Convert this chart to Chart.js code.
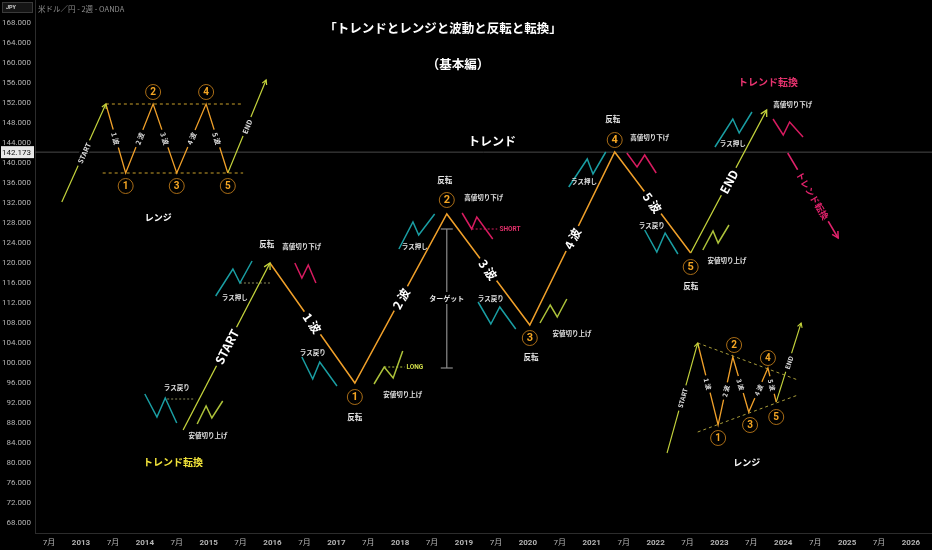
<!DOCTYPE html>
<html><head><meta charset="utf-8">
<script src="https://cdn.jsdelivr.net/npm/chart.js@4.4.1/dist/chart.umd.min.js"></script>
<style>html,body{margin:0;padding:0;background:#000;overflow:hidden}#wrap{width:932px;height:550px}</style>
</head><body><div id="wrap"><canvas id="c" width="932" height="550"></canvas></div>
<script>
// ---------- axes ----------
const xTickLabels = ['7月','2013','7月','2014','7月','2015','7月','2016','7月','2017','7月','2018','7月','2019','7月','2020','7月','2021','7月','2022','7月','2023','7月','2024','7月','2025','7月','2026'];
const xTickValues = [2012.5,2013,2013.5,2014,2014.5,2015,2015.5,2016,2016.5,2017,2017.5,2018,2018.5,2019,2019.5,2020,2020.5,2021,2021.5,2022,2022.5,2023,2023.5,2024,2024.5,2025,2025.5,2026];
const yTickValues = [68,72,76,80,84,88,92,96,100,104,108,112,116,120,124,128,132,136,140,144,148,152,156,160,164,168];
const xMin = 2012.28, xMax = 2026.33, yMin = 66.0, yMax = 172.6;
const currentPrice = 142.173;
const priceLine = [[xMin,142.173],[xMax,142.173]];

// ---------- top-left: range diagram ----------
const rngStartArrow = [[2012.70,132.2],[2013.39,151.8]];
const rngWaves = [[2013.39,151.8],[2013.70,138.0],[2014.13,151.8],[2014.50,138.0],[2014.96,151.8],[2015.30,138.0]];
const rngEndArrow = [[2015.30,138.0],[2015.90,156.6]];
const rngUpper = [[2013.39,151.8],[2015.54,151.8]];
const rngLower = [[2013.34,138.0],[2015.54,138.0]];
const rngCircles = [[2013.70,135.4],[2014.13,154.2],[2014.50,135.4],[2014.96,154.2],[2015.30,135.4]];
const rngTitlePos = [2014.21,129.0];

// ---------- main trend ----------
const trendStartArrow = [[2014.60,86.6],[2015.96,120.0]];
const trendWaves = [[2015.96,120.0],[2017.29,96.0],[2018.73,129.8],[2020.03,107.6],[2021.36,142.2],[2022.55,122.0]];
const trendEndArrow = [[2022.55,122.0],[2023.74,150.6]];
const trendCircles = [[2017.29,93.2],[2018.73,132.6],[2020.03,105.0],[2021.36,144.6],[2022.55,119.2]];
const reversalPos = [[2015.91,123.8],[2017.29,89.2],[2018.70,136.6],[2020.05,101.2],[2021.33,148.8],[2022.55,115.4]];

const tealZig1 = [[2014.00,93.8],[2014.19,89.2],[2014.32,93.0],[2014.50,88.0]];
const tealZig2 = [[2015.11,113.4],[2015.38,118.8],[2015.49,116.0],[2015.68,120.4]];
const tealZig3 = [[2016.46,101.2],[2016.63,96.8],[2016.74,100.2],[2017.01,95.4]];
const tealZig4 = [[2017.98,122.8],[2018.20,128.2],[2018.29,125.6],[2018.54,129.8]];
const tealZig5 = [[2019.22,112.2],[2019.42,107.8],[2019.56,111.2],[2019.81,106.8]];
const tealZig6 = [[2020.64,135.2],[2020.93,140.8],[2021.02,137.8],[2021.22,142.2]];
const tealZig7 = [[2021.83,126.6],[2022.02,122.2],[2022.15,126.0],[2022.35,121.8]];
const tealZig8 = [[2022.93,143.2],[2023.21,148.8],[2023.31,146.0],[2023.51,150.2]];

const pinkZig1 = [[2016.35,120.0],[2016.46,117.0],[2016.56,119.6],[2016.68,116.0]];
const pinkZig2 = [[2018.97,130.0],[2019.12,126.8],[2019.20,129.2],[2019.45,124.8]];
const pinkZig3 = [[2021.55,142.0],[2021.71,139.2],[2021.83,141.6],[2022.01,138.0]];
const pinkZig4 = [[2023.84,148.8],[2024.00,145.6],[2024.10,148.2],[2024.31,145.2]];

const limeZig1 = [[2014.82,87.8],[2014.96,91.4],[2015.05,89.0],[2015.22,92.4]];
const limeZig2 = [[2017.59,95.8],[2017.75,99.2],[2017.89,97.0],[2018.04,102.4]];
const limeZig3 = [[2020.19,108.0],[2020.35,111.6],[2020.46,109.2],[2020.61,112.8]];
const limeZig4 = [[2022.74,122.6],[2022.90,126.4],[2022.98,124.0],[2023.15,127.6]];

const refDash1 = [[2014.35,92.8],[2014.79,92.8]];
const refDash2 = [[2015.49,116.0],[2015.96,116.0]];
const longDash = [[2017.75,99.2],[2018.07,99.2]];
const shortDash = [[2019.12,126.8],[2019.52,126.8]];
const targetLine = [[2018.73,126.8],[2018.73,99.0]];
const reversalArrow = [[2024.07,142.0],[2024.86,125.0]];

const lowerHighPos = [[2016.46,123.2],[2019.31,133.0],[2021.91,145.0],[2024.15,151.6]];
const higherLowPos = [[2014.99,85.4],[2018.04,93.6],[2020.69,105.8],[2023.12,120.4]];
const lastRallyPos = [[2014.50,95.0],[2016.63,102.0],[2019.42,112.8],[2021.94,127.4]];
const lastPullPos = [[2015.41,113.0],[2018.23,123.2],[2020.88,136.2],[2023.21,143.8]];
const targetPos = [2018.73,113.0];
const longPos = [2018.23,99.2];
const shortPos = [2019.72,126.8];
const trendTextPos = [2019.44,144.4];
const changeLeftPos = [2014.44,80.2];
const changeRightPos = [2023.76,156.2];

// ---------- bottom-right: small range ----------
const miniStartArrow = [[2022.18,82.0],[2022.66,104.0]];
const miniWaves = [[2022.66,104.0],[2022.98,87.6],[2023.21,101.2],[2023.46,90.2],[2023.76,99.0],[2023.89,92.2]];
const miniEndArrow = [[2023.89,92.2],[2024.28,108.0]];
const miniUpper = [[2022.66,104.0],[2024.23,96.6]];
const miniLower = [[2022.66,86.2],[2024.23,93.6]];
const miniCircles = [[2022.98,85.0],[2023.23,103.6],[2023.48,87.6],[2023.76,101.0],[2023.89,89.2]];
const miniTitlePos = [2023.43,80.0];

const waveNames = ['1 波','2 波','3 波','4 波','5 波'];
const circleNums = ['1','2','3','4','5'];

// ---------- styling ----------
const FONT = 'Roboto, "Noto Sans CJK JP", sans-serif';
const JP = '"Noto Sans CJK JP", "Noto Sans", sans-serif';
const ORANGE = '#f0a02a', LIME = '#c4d33c', TEAL = '#1a9ea3', PINK = '#d81b60', YG = '#adc23a';

function ds(arr, color, width, extra) {
  return Object.assign({data: arr.map(p => ({x: p[0], y: p[1]})), borderColor: color, borderWidth: width,
    pointRadius: 0, fill: false, tension: 0, clip: false}, extra || {});
}
const bigSeg = {segFont: 'bold 12px ' + JP, segColor: '#ffffff'};
const smallSeg = {segFont: 'bold 7px ' + JP, segColor: '#dddddd'};
const miniSeg = {segFont: 'bold 6.5px ' + JP, segColor: '#dddddd'};

const datasets = [
  ds(rngStartArrow, LIME, 1.2, Object.assign({arrow: 5, segLabels: ['START']}, smallSeg)),
  ds(rngWaves, ORANGE, 1.3, Object.assign({segLabels: waveNames}, smallSeg)),
  ds(rngEndArrow, LIME, 1.2, Object.assign({arrow: 5, segLabels: ['END']}, smallSeg)),
  ds(trendStartArrow, LIME, 1.3, Object.assign({arrow: 7, segLabels: ['START']}, bigSeg)),
  ds(trendWaves, ORANGE, 1.5, Object.assign({segLabels: waveNames}, bigSeg)),
  ds(trendEndArrow, LIME, 1.3, Object.assign({arrow: 7, segLabels: ['END']}, bigSeg)),
  ds(reversalArrow, '#e0226b', 1.5, {arrow: 7, segLabels: ['トレンド転換'], segFont: 'bold 9px ' + JP, segColor: '#e0226b'}),
  ds(miniStartArrow, LIME, 1.1, Object.assign({arrow: 5, segLabels: ['START']}, miniSeg)),
  ds(miniWaves, ORANGE, 1.3, Object.assign({segLabels: waveNames}, miniSeg)),
  ds(miniEndArrow, LIME, 1.1, Object.assign({arrow: 5, segLabels: ['END']}, miniSeg)),
  ds(rngUpper, '#c9a02a', 1, {borderDash: [3, 3]}),
  ds(rngLower, '#c9a02a', 1, {borderDash: [3, 3]}),
  ds(miniUpper, '#a89c3a', 1, {borderDash: [3, 3]}),
  ds(miniLower, '#a89c3a', 1, {borderDash: [3, 3]}),
  ds(tealZig1, TEAL, 1.5), ds(tealZig2, TEAL, 1.5), ds(tealZig3, TEAL, 1.5), ds(tealZig4, TEAL, 1.5),
  ds(tealZig5, TEAL, 1.5), ds(tealZig6, TEAL, 1.5), ds(tealZig7, TEAL, 1.5), ds(tealZig8, TEAL, 1.5),
  ds(pinkZig1, PINK, 1.5), ds(pinkZig2, PINK, 1.5), ds(pinkZig3, PINK, 1.5), ds(pinkZig4, PINK, 1.5),
  ds(limeZig1, YG, 1.5), ds(limeZig2, YG, 1.5), ds(limeZig3, YG, 1.5), ds(limeZig4, YG, 1.5),
  ds(refDash1, '#8a8a5a', 1, {borderDash: [2, 2]}),
  ds(refDash2, '#8a8a5a', 1, {borderDash: [2, 2]}),
  ds(longDash, YG, 1, {borderDash: [2, 2]}),
  ds(shortDash, PINK, 1, {borderDash: [2, 2]}),
  ds(targetLine, '#8c8c8c', 1.2, {caps: 6}),
  ds(priceLine, '#4a4a4a', 1)
];

function drawHead(ctx, a, b, color, lw, size) {
  const ang = Math.atan2(b.y - a.y, b.x - a.x);
  ctx.save(); ctx.strokeStyle = color; ctx.lineWidth = lw; ctx.beginPath();
  ctx.moveTo(b.x - size * Math.cos(ang - 0.5), b.y - size * Math.sin(ang - 0.5));
  ctx.lineTo(b.x, b.y);
  ctx.lineTo(b.x - size * Math.cos(ang + 0.5), b.y - size * Math.sin(ang + 0.5));
  ctx.stroke(); ctx.restore();
}

const annotPlugin = {
  id: 'annot',
  afterDatasetsDraw(chart) {
    const ctx = chart.ctx, xs = chart.scales.x, ys = chart.scales.y;
    const P = p => ({x: xs.getPixelForValue(p[0]), y: ys.getPixelForValue(p[1])});
    chart.data.datasets.forEach((d, i) => {
      const pts = chart.getDatasetMeta(i).data;
      if (d.arrow) drawHead(ctx, pts[pts.length - 2], pts[pts.length - 1], d.borderColor, d.borderWidth, d.arrow);
      if (d.caps) {
        ctx.save(); ctx.strokeStyle = d.borderColor; ctx.lineWidth = d.borderWidth;
        pts.forEach(p => { ctx.beginPath(); ctx.moveTo(p.x - d.caps, p.y); ctx.lineTo(p.x + d.caps, p.y); ctx.stroke(); });
        ctx.restore();
      }
      if (d.segLabels) {
        d.segLabels.forEach((t, k) => {
          const a = pts[k], b = pts[k + 1];
          const ang = Math.atan2(b.y - a.y, b.x - a.x);
          ctx.save(); ctx.translate((a.x + b.x) / 2, (a.y + b.y) / 2); ctx.rotate(ang);
          ctx.font = d.segFont;
          const w = ctx.measureText(t).width, h = parseFloat(d.segFont.match(/([\d.]+)px/)[1]);
          ctx.fillStyle = '#000'; ctx.fillRect(-w / 2 - 3, -h / 2 - 1, w + 6, h + 2);
          ctx.fillStyle = d.segColor; ctx.textAlign = 'center'; ctx.textBaseline = 'middle';
          ctx.fillText(t, 0, 0.5); ctx.restore();
        });
      }
    });
    // circles
    const circles = (list, r, fs) => list.forEach((p, k) => {
      const c = P(p);
      ctx.save(); ctx.beginPath(); ctx.arc(c.x, c.y, r, 0, Math.PI * 2);
      ctx.fillStyle = '#000'; ctx.fill(); ctx.strokeStyle = '#a86c16'; ctx.lineWidth = 1; ctx.stroke();
      ctx.fillStyle = '#f5a623'; ctx.font = 'bold ' + fs + 'px ' + FONT; ctx.textAlign = 'center'; ctx.textBaseline = 'middle';
      ctx.fillText(circleNums[k], c.x, c.y + 0.5); ctx.restore();
    });
    circles(rngCircles, 7.5, 10);
    circles(trendCircles, 7.5, 11);
    circles(miniCircles, 7.5, 10);
    // text labels
    const label = (p, t, font, color, bg) => {
      const c = P(p);
      ctx.save(); ctx.font = font; ctx.textAlign = 'center'; ctx.textBaseline = 'middle';
      if (bg) { const w = ctx.measureText(t).width; ctx.fillStyle = '#000'; ctx.fillRect(c.x - w / 2 - 2, c.y - 6, w + 4, 12); }
      ctx.fillStyle = color; ctx.fillText(t, c.x, c.y); ctx.restore();
    };
    const small = 'bold 6.5px ' + JP;
    reversalPos.forEach(p => label(p, '反転', 'bold 7.5px ' + JP, '#e6e6e6'));
    lowerHighPos.forEach(p => label(p, '高値切り下げ', small, '#e0e0e0'));
    higherLowPos.forEach(p => label(p, '安値切り上げ', small, '#e0e0e0'));
    lastRallyPos.forEach(p => label(p, 'ラス戻り', small, '#e0e0e0'));
    lastPullPos.forEach(p => label(p, 'ラス押し', small, '#e0e0e0'));
    label(targetPos, 'ターゲット', 'bold 7px ' + JP, '#e6e6e6', true);
    label(longPos, 'LONG', 'bold 6.5px ' + FONT, '#d0dc48');
    label(shortPos, 'SHORT', 'bold 6.5px ' + FONT, '#e0306a');
    label(trendTextPos, 'トレンド', 'bold 12px ' + JP, '#ffffff');
    label(rngTitlePos, 'レンジ', 'bold 9px ' + JP, '#ffffff');
    label(miniTitlePos, 'レンジ', 'bold 9px ' + JP, '#ffffff');
    label(changeLeftPos, 'トレンド転換', 'bold 10px ' + JP, '#f2e43a');
    label(changeRightPos, 'トレンド転換', 'bold 10px ' + JP, '#e8336f');
  },
  afterDraw(chart) {
    const ctx = chart.ctx, ys = chart.scales.y;
    ctx.save();
    // title
    ctx.fillStyle = '#ffffff'; ctx.textAlign = 'center'; ctx.textBaseline = 'middle';
    ctx.font = 'bold 12.5px ' + JP;
    ctx.fillText('「トレンドとレンジと波動と反転と転換」', 443, 28);
    ctx.fillText('（基本編）', 458, 64);
    // header
    ctx.fillStyle = '#151515'; ctx.fillRect(2, 2, 31, 11);
    ctx.strokeStyle = '#3a3a3a'; ctx.lineWidth = 1; ctx.strokeRect(2.5, 2.5, 30, 10);
    ctx.fillStyle = '#d0d0d0'; ctx.textAlign = 'left'; ctx.font = 'bold 5.5px ' + FONT; ctx.fillText('JPY', 6, 8);
    ctx.fillStyle = '#8e8e8e'; ctx.font = '7.5px ' + JP; ctx.fillText('米ドル／円 - 2週 - OANDA', 38, 9);
    // current price tag
    const py = ys.getPixelForValue(currentPrice);
    ctx.fillStyle = '#e8e8e8'; ctx.fillRect(1, py - 6, 33, 12);
    ctx.fillStyle = '#111'; ctx.textAlign = 'right'; ctx.font = '8px ' + FONT;
    ctx.fillText(currentPrice.toFixed(3), 31, py + 0.5);
    ctx.restore();
  }
};

new Chart(document.getElementById('c'), {
  type: 'line',
  data: {datasets},
  options: {
    responsive: false, animation: false, events: [],
    layout: {padding: 0},
    plugins: {legend: {display: false}, tooltip: {enabled: false}},
    scales: {
      x: {
        type: 'linear', position: 'bottom', min: xMin, max: xMax,
        afterBuildTicks: s => { s.ticks = xTickValues.map(v => ({value: v})); },
        afterFit: s => { s.height = 17; s.paddingLeft = 0; s.paddingRight = 0; },
        grid: {display: false, drawTicks: false},
        border: {display: true, color: '#2c2c2c', width: 1},
        ticks: {autoSkip: false, maxRotation: 0, minRotation: 0, padding: 5, color: '#b4b4b4',
          font: c => ({family: FONT, size: 8, weight: (xTickLabels[c.index] || '').indexOf('月') >= 0 ? 'normal' : 'bold'}),
          callback: (v, i) => xTickLabels[i]}
      },
      y: {
        type: 'linear', position: 'left', min: yMin, max: yMax,
        afterBuildTicks: s => { s.ticks = yTickValues.map(v => ({value: v})); },
        afterFit: s => { s.width = 35; s.paddingTop = 0; s.paddingBottom = 0; },
        grid: {display: false, drawTicks: false},
        border: {display: true, color: '#2c2c2c', width: 1},
        ticks: {padding: 4, color: '#b4b4b4', font: {family: FONT, size: 8}, callback: v => Number(v).toFixed(3)}
      }
    }
  },
  plugins: [annotPlugin]
});
</script>
</body></html>
